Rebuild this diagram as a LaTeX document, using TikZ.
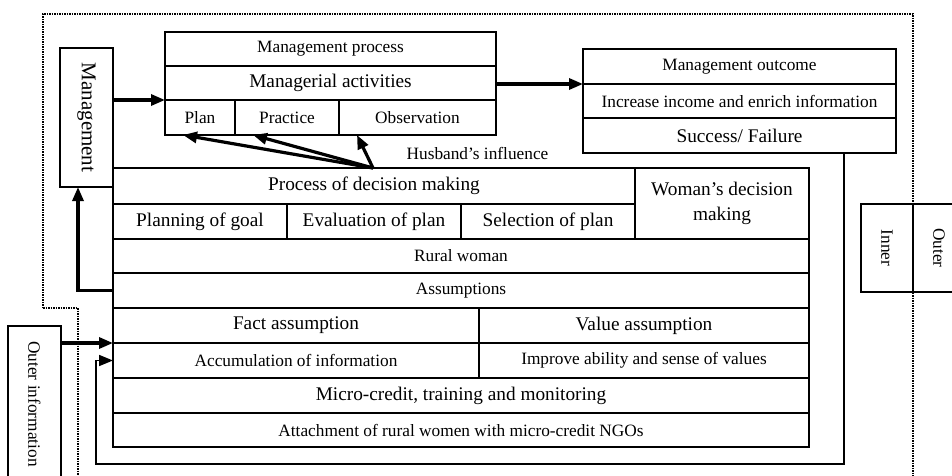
\documentclass[tikz,border=0pt]{standalone}
\usepackage{fontspec}
\setmainfont{Liberation Serif}
\usetikzlibrary{arrows.meta,calc}
\newcommand\smallfs{\fontsize{17.3}{21}\selectfont}
\newcommand\bigfs{\fontsize{19.3}{25}\selectfont}
\tikzset{
  cellbox/.style={draw, line width=1.5pt, inner sep=0pt, outer sep=0pt, align=center},
  sm/.style={cellbox, font=\smallfs},
  bg/.style={cellbox, font=\bigfs},
  thickarrow/.style={line width=3.2pt, -{Triangle[length=14pt,width=11pt]}},
  thinarrow/.style={line width=1.6pt, -{Triangle[length=14pt,width=11pt]}},
  boundary/.style={line width=1.6pt, dash pattern=on 1.5pt off 1pt},
}
\begin{document}
\begin{tikzpicture}[x=1pt,y=-1pt]
\useasboundingbox (0,0) rectangle (952,476);
% dotted boundary
\draw[boundary] (43,308) -- (43,14) -- (913,14) -- (913,476);
\draw[boundary] (43,308) -- (78,308) -- (78,476);

% Management box
\node[cellbox, minimum width=53pt, minimum height=139pt, font=\fontsize{21}{24}\selectfont] (mgmt) at (86.5,117.5) {\rotatebox{-90}{Management}};

% Management process block
\node[sm, minimum width=331pt, minimum height=34pt] (mp) at (330.5,49) {Management process};
\node[bg, minimum width=331pt, minimum height=34pt] (ma) at (330.5,83) {Managerial activities};
\node[sm, minimum width=70pt, minimum height=35pt] (plan) at (200,117.5) {Plan};
\node[sm, minimum width=104pt, minimum height=35pt] (practice) at (287,117.5) {Practice};
\node[sm, minimum width=157pt, minimum height=35pt] (obs) at (417.5,117.5) {Observation};

% Outcome block
\node[sm, minimum width=313pt, minimum height=35pt] (mo) at (739.5,66.5) {Management outcome};
\node[sm, minimum width=313pt, minimum height=34pt] (inc) at (739.5,101) {Increase income and enrich information};
\node[bg, minimum width=313pt, minimum height=35pt] (sf) at (739.5,135.5) {Success/ Failure};

% Husband's influence
\node[font=\smallfs, inner sep=0pt] (hinf) at (477.5,153) {Husband’s influence};

% Decision making block
\node[bg, minimum width=522pt, minimum height=36pt] (pdm) at (374,186) {Process of decision making};
\node[bg, minimum width=174pt, minimum height=35pt] (pg) at (200,221.5) {Planning of goal};
\node[bg, minimum width=174pt, minimum height=35pt] (ep) at (374,221.5) {Evaluation of plan};
\node[bg, minimum width=174pt, minimum height=35pt] (sp) at (548,221.5) {Selection of plan};
\node[bg, minimum width=174pt, minimum height=71pt] (wdm) at (722,203.5) {Woman’s decision\\making};
\node[sm, minimum width=696pt, minimum height=34pt] (rw) at (461,256) {Rural woman};
\node[sm, minimum width=696pt, minimum height=35pt] (as) at (461,290.5) {Assumptions};
\node[bg, minimum width=366pt, minimum height=35pt] (fa) at (296,325.5) {Fact assumption};
\node[bg, minimum width=330pt, minimum height=35pt] (va) at (644,325.5) {Value assumption};
\node[sm, minimum width=366pt, minimum height=35pt] (ai) at (296,360.5) {Accumulation of information};
\node[sm, minimum width=330pt, minimum height=35pt] (ia) at (644,360.5) {Improve ability and sense of values};
\node[bg, minimum width=696pt, minimum height=35pt] (mc) at (461,395.5) {Micro-credit, training and monitoring};
\node[sm, minimum width=696pt, minimum height=34pt] (at) at (461,430) {Attachment of rural women with micro-credit NGOs};

% Inner / Outer
\node[sm, minimum width=52pt, minimum height=88pt] (inner) at (887,248) {\rotatebox{-90}{Inner}};
\node[sm, minimum width=52pt, minimum height=88pt] (outer) at (939,248) {\rotatebox{-90}{Outer}};

% Outer information
\node[sm, minimum width=53pt, minimum height=156pt] (oinfo) at (34.5,404) {\rotatebox{-90}{Outer information}};

% Connectors
\draw[thickarrow] (mgmt.east |- ma.south west) -- (ma.south west);
\draw[thickarrow] (ma.east |- mo.south west) -- (mo.south west);
\coordinate (h) at (373,168);
\draw[thickarrow] (h) -- ([xshift=18pt]plan.south west);
\draw[thickarrow] (h) -- ([xshift=18pt]practice.south west);
\draw[thickarrow] (h) -- ([xshift=18pt]obs.south west);
\draw[thickarrow] (as.west) -| ([xshift=-8.5pt]mgmt.south);
\draw[thickarrow] (oinfo.east |- ai.north west) -- (ai.north west);
\coordinate (fb) at ($(sf.south)+(104.5,0)$);
\coordinate (bl) at (96,464);
\draw[thinarrow] (fb) |- (bl) |- (ai.west);
\end{tikzpicture}
\end{document}
